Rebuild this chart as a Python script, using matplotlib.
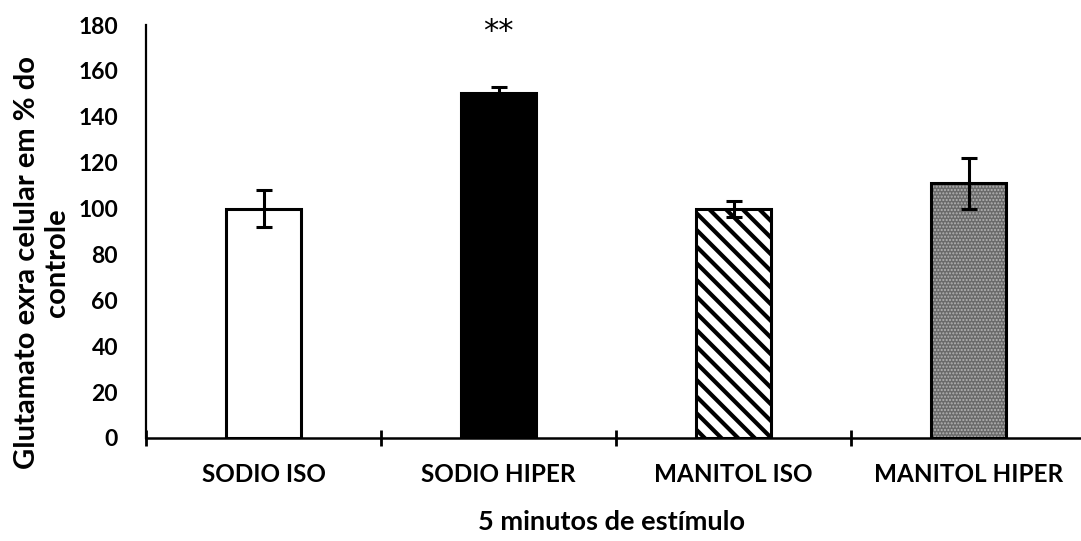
import numpy as np
import matplotlib
matplotlib.use('Agg')
import matplotlib.pyplot as plt

# values
categories = ['SODIO ISO', 'SODIO HIPER', 'MANITOL ISO', 'MANITOL HIPER']
means = [100, 150.5, 100, 111]
errors = [8, 2.5, 3.5, 11]

plt.rcParams['font.family'] = ['Lato', 'DejaVu Sans']
plt.rcParams['hatch.linewidth'] = 3.0

fig = plt.figure(figsize=(10.81, 5.41), dpi=100)
ax = fig.add_axes([146 / 1081, 1 - 438 / 541, 935 / 1081, 413 / 541])

x = np.arange(len(categories))
w = 0.315
lw = 2.2

# white, black, hatched, gray dotted
ax.bar(x[0], means[0], w, color='white', edgecolor='black', linewidth=lw, zorder=2)
ax.bar(x[1], means[1], w, color='black', edgecolor='black', linewidth=lw, zorder=2)
ax.bar(x[2], means[2], w, color='white', edgecolor='black', hatch='\\\\', linewidth=lw, zorder=2)
# gray checker pattern: gray fill with light dotted hatch, then outline
plt.rcParams['hatch.linewidth'] = 1.0
ax.bar(x[3], means[3], w, color='#6a6a6a', edgecolor='#b4b4b4', hatch='.....', linewidth=0, zorder=2)
ax.bar(x[3], means[3], w, fill=False, edgecolor='black', linewidth=lw, zorder=3)

ax.errorbar(x, means, yerr=errors, fmt='none', ecolor='black', elinewidth=2.2,
            capsize=6, capthick=2.2, zorder=4)

ax.text(x[1], 177, '**', ha='center', va='center', fontsize=22, family=['DejaVu Sans'])

ax.set_xlim(-0.5, -0.5 + 935 / 235)
ax.set_ylim(0, 180)
ax.set_yticks(np.arange(0, 181, 20))
ax.set_xticks(x)
ax.set_xticklabels(categories)
ax.set_xticks(np.arange(-0.5, 3.0, 1.0), minor=True)
ax.tick_params(axis='x', which='major', length=0, pad=18, labelsize=17.5)
ax.tick_params(axis='x', which='minor', direction='inout', length=12, width=2)
ax.tick_params(axis='y', length=0, pad=20, labelsize=16.5)
for lab in ax.get_xticklabels() + ax.get_yticklabels():
    lab.set_fontweight('bold')

for s in ['top', 'right']:
    ax.spines[s].set_visible(False)
ax.spines['left'].set_linewidth(1.6)
ax.spines['bottom'].set_linewidth(1.8)

fig.text(42 / 1081, 1 - 263 / 541, 'Glutamato exra celular em % do\ncontrole', rotation=90,
         ha='center', va='center', fontsize=21, fontweight='bold', linespacing=1.15,
         multialignment='center')
fig.text(612 / 1081, 1 - 522 / 541, '5 minutos de estímulo', ha='center', va='center',
         fontsize=19.5, fontweight='bold')

fig.savefig('out.png', dpi=100)
